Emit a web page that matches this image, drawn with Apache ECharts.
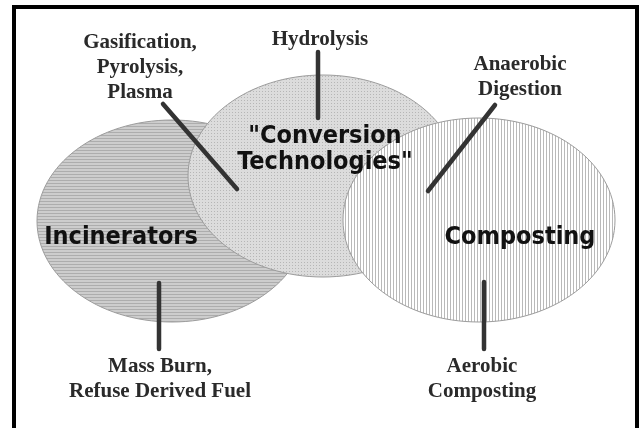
<!DOCTYPE html>
<html><head><meta charset="utf-8">
<script src="https://cdn.jsdelivr.net/npm/echarts@6/dist/echarts.min.js"></script>
<style>html,body{margin:0;padding:0;background:#fff}#c{width:642px;height:428px}</style>
</head><body><div id="c"></div>
<script>
// Sets (ellipses) of the diagram, in picture units
const setNames = ['Incinerators', '"Conversion\nTechnologies"', 'Composting'];
const setCenterX = [172, 323, 479];
const setCenterY = [221, 176, 220];
const setRadiusX = [135, 135, 136];
const setRadiusY = [101, 101, 102];
const setLabelX = [121, 325, 520];
const setLabelY = [237, 149, 237];

// Technologies and their pointer lines
const techNames = ['Gasification,\nPyrolysis,\nPlasma', 'Hydrolysis', 'Anaerobic\nDigestion', 'Mass Burn,\nRefuse Derived Fuel', 'Aerobic\nComposting'];
const techLabelX = [140, 320, 520, 160, 482];
const techLabelY = [68, 40, 77, 379, 379];
const pointerFromX = [163, 318, 495, 159, 484];
const pointerFromY = [104, 52, 105, 283, 282];
const pointerToX = [237, 318, 428, 159, 484];
const pointerToY = [189, 118, 191, 349, 349];

function makePattern(w, h, bg, draw) {
  const c = document.createElement('canvas');
  c.width = w; c.height = h;
  const g = c.getContext('2d');
  g.fillStyle = bg; g.fillRect(0, 0, w, h);
  draw(g);
  return { image: c, repeat: 'repeat' };
}
const patterns = [
  makePattern(1, 3, '#cdcdcd', g => { g.fillStyle = '#adadad'; g.fillRect(0, 0, 1, 1); }),
  makePattern(3, 3, '#dcdcdc', g => { g.fillStyle = '#b6b6b6'; g.fillRect(1, 1, 1, 1); }),
  makePattern(3, 1, '#ffffff', g => { g.fillStyle = '#b9b9b9'; g.fillRect(0, 0, 1, 1); })
];

const chart = echarts.init(document.getElementById('c'), null, { renderer: 'canvas' });
chart.setOption({
  animation: false,
  backgroundColor: '#fff',
  grid: { left: 0, top: 0, right: 0, bottom: 0, show: false },
  xAxis: { type: 'value', min: 0, max: 642, show: false },
  yAxis: { type: 'value', min: 0, max: 428, inverse: true, show: false },
  graphic: [{
    type: 'polyline', silent: true, z: 100,
    shape: { points: [[14, 440], [14, 7], [637, 7], [637, 440]] },
    style: { stroke: '#000', lineWidth: 4, fill: null }
  }],
  series: [
    {
      type: 'custom', silent: true, clip: false,
      data: setCenterX.map((x, i) => [x, setCenterY[i], setRadiusX[i], setRadiusY[i], i]),
      renderItem: function (params, api) {
        const i = api.value(4);
        const p = api.coord([api.value(0), api.value(1)]);
        const s = api.size([api.value(2), api.value(3)]);
        return {
          type: 'ellipse',
          shape: { cx: p[0], cy: p[1], rx: Math.abs(s[0]), ry: Math.abs(s[1]) },
          style: { fill: patterns[i], stroke: '#9c9c9c', lineWidth: 1, blend: i > 0 ? 'multiply' : 'source-over' }
        };
      }
    },
    {
      type: 'custom', silent: true, clip: false,
      data: pointerFromX.map((x, i) => [x, pointerFromY[i], pointerToX[i], pointerToY[i]]),
      renderItem: function (params, api) {
        const a = api.coord([api.value(0), api.value(1)]);
        const b = api.coord([api.value(2), api.value(3)]);
        return {
          type: 'line',
          shape: { x1: a[0], y1: a[1], x2: b[0], y2: b[1] },
          style: { stroke: '#333', lineWidth: 4.5, lineCap: 'round' }
        };
      }
    },
    {
      type: 'custom', silent: true, clip: false,
      data: setLabelX.map((x, i) => [x, setLabelY[i], i]),
      renderItem: function (params, api) {
        const i = api.value(2);
        const p = api.coord([api.value(0), api.value(1)]);
        return {
          type: 'text',
          style: {
            text: setNames[i], x: p[0], y: p[1],
            font: 'bold 25px "DejaVu Sans Condensed", "DejaVu Sans", sans-serif',
            fill: '#111', align: 'center', verticalAlign: 'middle', lineHeight: 26
          }
        };
      }
    },
    {
      type: 'custom', silent: true, clip: false,
      data: techLabelX.map((x, i) => [x, techLabelY[i], i]),
      renderItem: function (params, api) {
        const i = api.value(2);
        const p = api.coord([api.value(0), api.value(1)]);
        return {
          type: 'text',
          style: {
            text: techNames[i], x: p[0], y: p[1],
            font: 'bold 21px "Liberation Serif", "DejaVu Serif", serif',
            fill: '#2a2a2a', align: 'center', verticalAlign: 'middle', lineHeight: 25
          }
        };
      }
    }
  ]
});
</script>
</body></html>
